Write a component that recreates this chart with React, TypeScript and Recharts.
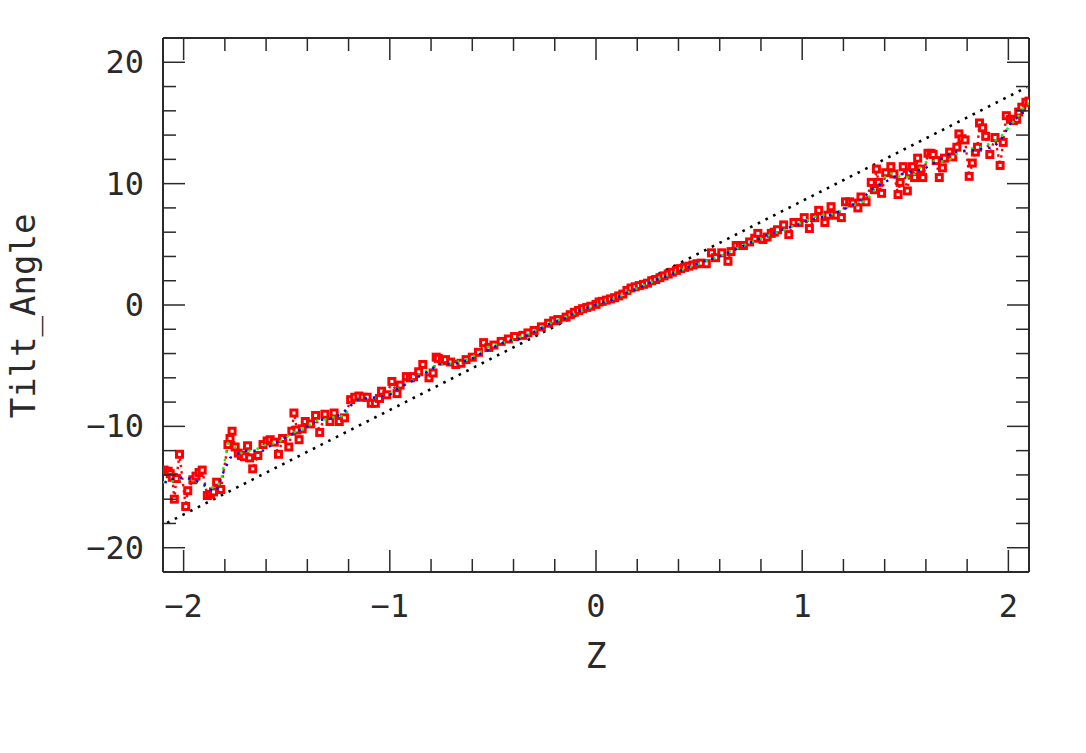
import { Label, Scatter, ScatterChart, XAxis, YAxis } from 'recharts';

// tick positions along Z and the tilt angle; labelled ones are the majors
const zTicks = [-2, -1.8, -1.6, -1.4, -1.2, -1, -0.8, -0.6, -0.4, -0.2, 0, 0.2, 0.4, 0.6, 0.8, 1, 1.2, 1.4, 1.6, 1.8, 2];
const zMajor = [-2, -1, 0, 1, 2];
const angleTicks = [-20, -18, -16, -14, -12, -10, -8, -6, -4, -2, 0, 2, 4, 6, 8, 10, 12, 14, 16, 18, 20];
const angleMajor = [-20, -10, 0, 10, 20];

// measured tilt angle (red squares), [z, angle]
const measured: [number, number][] = [
  [-2.095, -13.6], [-2.085, -13.7], [-2.075, -13.7], [-2.065, -13.9], [-2.055, -14.2],
  [-2.045, -16.0], [-2.035, -14.3], [-2.02, -12.3], [-1.99, -16.6], [-1.98, -15.3],
  [-1.955, -14.4], [-1.94, -14.1], [-1.925, -13.8], [-1.91, -13.6], [-1.885, -15.7],
  [-1.87, -15.6], [-1.855, -15.4], [-1.84, -14.6], [-1.82, -15.2], [-1.785, -11.5],
  [-1.775, -11.0], [-1.765, -10.4], [-1.75, -11.7], [-1.735, -12.2], [-1.72, -12.4],
  [-1.705, -12.5], [-1.69, -11.6], [-1.68, -12.6], [-1.665, -13.5], [-1.64, -12.4],
  [-1.615, -11.5], [-1.595, -11.2], [-1.58, -11.1], [-1.56, -11.3], [-1.54, -12.3],
  [-1.52, -11.0], [-1.49, -11.7], [-1.475, -10.4], [-1.465, -8.9], [-1.45, -10.3],
  [-1.44, -11.1], [-1.425, -10.2], [-1.41, -9.6], [-1.385, -9.8], [-1.36, -9.1],
  [-1.34, -10.5], [-1.315, -9.0], [-1.29, -9.6], [-1.27, -8.9], [-1.245, -9.6],
  [-1.22, -9.3], [-1.19, -7.8], [-1.17, -7.6], [-1.15, -7.5], [-1.13, -7.6],
  [-1.11, -7.6], [-1.09, -8.1], [-1.07, -8.1], [-1.05, -7.7], [-1.04, -7.1],
  [-1.015, -7.4], [-0.99, -6.3], [-0.965, -7.3], [-0.95, -6.6], [-0.92, -5.9],
  [-0.9, -6.0], [-0.885, -5.9], [-0.86, -5.5], [-0.84, -4.9], [-0.81, -6.0],
  [-0.79, -5.6], [-0.775, -4.3], [-0.765, -4.4], [-0.745, -4.6], [-0.73, -4.5],
  [-0.705, -4.7], [-0.68, -4.9], [-0.655, -4.8], [-0.63, -4.5], [-0.6, -4.3],
  [-0.57, -3.9], [-0.545, -3.1], [-0.52, -3.5], [-0.495, -3.3], [-0.46, -3.0],
  [-0.425, -2.8], [-0.395, -2.6], [-0.355, -2.5], [-0.33, -2.3], [-0.3, -2.1],
  [-0.265, -1.8], [-0.23, -1.5], [-0.205, -1.3], [-0.185, -1.2], [-0.145, -1.0],
  [-0.125, -0.8], [-0.105, -0.6], [-0.085, -0.45], [-0.065, -0.3], [-0.045, -0.2],
  [-0.025, -0.1], [0.0, 0.05], [0.015, 0.25], [0.03, 0.3], [0.05, 0.4],
  [0.07, 0.5], [0.09, 0.6], [0.11, 0.75], [0.13, 0.9], [0.15, 1.2],
  [0.17, 1.4], [0.19, 1.5], [0.21, 1.6], [0.23, 1.7], [0.25, 1.8],
  [0.27, 2.0], [0.29, 2.1], [0.31, 2.25], [0.33, 2.4], [0.35, 2.55],
  [0.37, 2.7], [0.39, 2.85], [0.41, 3.0], [0.43, 3.1], [0.45, 3.2],
  [0.47, 3.3], [0.49, 3.4], [0.51, 3.45], [0.535, 3.4], [0.56, 4.3],
  [0.58, 3.9], [0.61, 4.3], [0.64, 3.6], [0.655, 4.4], [0.68, 4.9],
  [0.7, 4.9], [0.715, 4.9], [0.745, 5.2], [0.77, 5.5], [0.785, 5.9],
  [0.81, 5.4], [0.83, 5.6], [0.85, 5.9], [0.865, 6.0], [0.88, 6.2],
  [0.91, 6.6], [0.935, 5.8], [0.96, 6.8], [0.985, 6.8], [1.01, 7.2],
  [1.035, 6.3], [1.06, 7.2], [1.08, 7.8], [1.11, 6.8], [1.125, 7.4],
  [1.14, 8.1], [1.165, 7.4], [1.19, 7.2], [1.21, 8.5], [1.23, 8.5],
  [1.245, 8.4], [1.27, 8.0], [1.285, 8.9], [1.31, 8.5], [1.335, 10.1],
  [1.35, 9.5], [1.36, 11.2], [1.37, 10.1], [1.385, 9.2], [1.405, 10.9],
  [1.43, 11.4], [1.445, 10.8], [1.465, 9.1], [1.475, 10.1], [1.49, 11.4],
  [1.51, 9.4], [1.52, 10.9], [1.535, 11.4], [1.545, 10.5], [1.56, 12.1],
  [1.575, 11.2], [1.585, 10.5], [1.61, 12.5], [1.625, 12.5], [1.635, 12.4],
  [1.65, 11.9], [1.665, 10.5], [1.68, 11.3], [1.69, 12.1], [1.715, 12.6],
  [1.73, 12.2], [1.75, 13.0], [1.76, 14.1], [1.775, 13.7], [1.79, 13.6],
  [1.81, 10.6], [1.825, 11.7], [1.84, 12.6], [1.85, 13.0], [1.86, 15.0],
  [1.875, 14.6], [1.89, 13.9], [1.91, 12.4], [1.935, 13.8], [1.96, 11.5],
  [1.975, 13.4], [1.99, 15.6], [2.01, 15.3], [2.025, 15.2], [2.04, 15.3],
  [2.05, 15.9], [2.065, 16.3], [2.085, 16.7], [2.1, 16.8],
];

// smoothed curves (green, blue dotted)
const smoothGreen: [number, number][] = [
  [-2.1, -14.6], [-2.05, -14.5], [-2.0, -14.3], [-1.95, -14.4], [-1.9, -14.9],
  [-1.85, -15.1], [-1.82, -14.6], [-1.8, -12.8], [-1.785, -11.4], [-1.75, -11.7],
  [-1.72, -12.2], [-1.68, -12.0], [-1.63, -11.8], [-1.59, -11.4], [-1.55, -11.4],
  [-1.5, -10.9], [-1.47, -10.5], [-1.43, -10.3], [-1.39, -9.9], [-1.35, -9.5],
  [-1.3, -9.4], [-1.25, -9.1], [-1.22, -9.2], [-1.19, -8.2], [-1.15, -7.8],
  [-1.1, -7.7], [-1.05, -7.6], [-1.0, -7.3], [-0.95, -6.8], [-0.9, -6.3],
  [-0.84, -5.6], [-0.78, -5.0], [-0.7, -4.8], [-0.63, -4.5], [-0.57, -4.0],
  [-0.53, -3.5], [-0.47, -3.2], [-0.41, -2.9], [-0.33, -2.4], [-0.25, -1.7],
  [-0.18, -1.2], [-0.1, -0.7], [0.0, 0.0], [0.1, 0.6], [0.2, 1.4],
  [0.3, 2.1], [0.4, 2.8], [0.5, 3.4], [0.6, 4.0], [0.7, 4.8],
  [0.8, 5.5], [0.9, 6.1], [1.0, 6.8], [1.08, 7.4], [1.15, 7.5],
  [1.2, 7.9], [1.26, 8.3], [1.31, 8.6], [1.36, 9.7], [1.42, 10.9],
  [1.47, 10.6], [1.53, 10.5], [1.57, 11.3], [1.61, 11.9], [1.66, 11.8],
  [1.71, 11.9], [1.76, 12.6], [1.8, 12.8], [1.85, 12.9], [1.91, 13.3],
  [1.96, 13.8], [2.0, 14.6], [2.05, 15.6], [2.08, 16.5], [2.1, 16.6],
];

const smoothBlue: [number, number][] = [
  [-2.1, -15.0], [-2.08, -14.4], [-2.0, -14.2], [-1.95, -14.4], [-1.9, -14.8],
  [-1.88, -15.2], [-1.84, -15.3], [-1.81, -13.9], [-1.775, -12.6], [-1.73, -12.2],
  [-1.69, -12.0], [-1.615, -12.0], [-1.57, -11.5], [-1.505, -10.9], [-1.47, -10.6],
  [-1.39, -9.9], [-1.35, -9.5], [-1.27, -9.3], [-1.23, -8.9], [-1.21, -8.6],
  [-1.17, -8.0], [-1.145, -7.7], [-1.1, -7.7], [-1.0, -7.4], [-0.97, -7.0],
  [-0.93, -6.6], [-0.895, -6.3], [-0.86, -5.9], [-0.795, -5.3], [-0.775, -4.9],
  [-0.68, -4.8], [-0.61, -4.5], [-0.57, -4.1], [-0.5, -3.5], [-0.45, -3.1],
  [-0.41, -2.9], [-0.37, -2.8], [-0.3, -2.2], [-0.22, -1.5], [-0.18, -1.3],
  [-0.15, -1.1], [-0.11, -0.7], [-0.07, -0.4], [-0.02, -0.1], [0.01, 0.1],
  [0.09, 0.5], [0.13, 0.9], [0.21, 1.4], [0.28, 2.0], [0.39, 2.7],
  [0.47, 3.3], [0.6, 4.0], [0.68, 4.6], [0.77, 5.3], [0.82, 5.7],
  [0.87, 6.0], [0.99, 6.7], [1.03, 7.0], [1.11, 7.3], [1.155, 7.5],
  [1.19, 7.8], [1.23, 8.1], [1.3, 8.9], [1.33, 9.4], [1.36, 9.8],
  [1.4, 10.1], [1.44, 10.5], [1.5, 10.9], [1.59, 11.2], [1.63, 11.6],
  [1.69, 12.2], [1.73, 12.6], [1.8, 12.7], [1.85, 12.8], [1.89, 12.9],
  [1.93, 13.0], [1.98, 14.0], [2.0, 14.8], [2.04, 15.4], [2.06, 15.8],
  [2.09, 15.9],
];

// reference straight line (black dotted)
const reference: [number, number][] = [
  [-2.08, -17.95],
  [2.09, 17.95],
];

const toRows = (pts: [number, number][]) => pts.map(([z, angle]) => ({ z, angle }));

const INK = '#2a2a2a';
const FONT = "'DejaVu Sans Mono', monospace";
const MAJOR = 22;
const MINOR = 13;

const fmt = (v: number) => (v < 0 ? `\u2212${Math.abs(v)}` : `${v}`);

function BottomTick({ x, y, payload }: any) {
  const major = zMajor.includes(payload.value);
  return (
    <g>
      <line x1={x} y1={y} x2={x} y2={y - (major ? MAJOR : MINOR)} stroke={INK} strokeWidth={1.5} />
      {major && (
        <text x={x} y={y + 45} textAnchor="middle" fontFamily={FONT} fontSize={32} fill={INK}>
          {fmt(payload.value)}
        </text>
      )}
    </g>
  );
}

function TopTick({ x, y, payload }: any) {
  const major = zMajor.includes(payload.value);
  return <line x1={x} y1={y} x2={x} y2={y + (major ? MAJOR : MINOR)} stroke={INK} strokeWidth={1.5} />;
}

function LeftTick({ x, y, payload }: any) {
  const major = angleMajor.includes(payload.value);
  return (
    <g>
      <line x1={x} y1={y} x2={x + (major ? MAJOR : MINOR)} y2={y} stroke={INK} strokeWidth={1.5} />
      {major && (
        <text x={x - 19} y={y + 11} textAnchor="end" fontFamily={FONT} fontSize={32} fill={INK}>
          {fmt(payload.value)}
        </text>
      )}
    </g>
  );
}

function RightTick({ x, y, payload }: any) {
  const major = angleMajor.includes(payload.value);
  return <line x1={x} y1={y} x2={x - (major ? MAJOR : MINOR)} y2={y} stroke={INK} strokeWidth={1.5} />;
}

function HollowSquare({ cx, cy }: any) {
  return <rect x={cx - 3} y={cy - 3} width={6} height={6} fill="#fff" stroke="#ff0000" strokeWidth={3} />;
}

const NoMark = () => <g />;

const axisLine = { stroke: INK, strokeWidth: 2 };

export default function App() {
  // the svg starts at the page edge so the rotated axis title has room
  return (
    <div style={{ width: 1078, height: 737, marginLeft: -8 }}>
      <ScatterChart width={1078} height={737} margin={{ top: 20, right: 39, bottom: 113, left: 63 }}>
        <XAxis
          xAxisId="b"
          type="number"
          dataKey="z"
          domain={[-2.1, 2.1]}
          allowDataOverflow
          ticks={zTicks}
          interval={0}
          tickSize={0}
          tickMargin={0}
          tickLine={false}
          axisLine={axisLine}
          tick={<BottomTick />}
          height={60}
        >
          <Label
            content={({ viewBox }: any) => (
              <text
                x={viewBox.x + viewBox.width / 2}
                y={viewBox.y + 96}
                textAnchor="middle"
                fontFamily={FONT}
                fontSize={35}
                fill={INK}
              >
                Z
              </text>
            )}
          />
        </XAxis>
        <XAxis
          xAxisId="t"
          orientation="top"
          type="number"
          dataKey="z"
          domain={[-2.1, 2.1]}
          allowDataOverflow
          ticks={zTicks}
          interval={0}
          tickSize={0}
          tickMargin={0}
          tickLine={false}
          axisLine={axisLine}
          tick={<TopTick />}
          height={10}
        />
        <YAxis
          yAxisId="l"
          type="number"
          dataKey="angle"
          domain={[-22, 22]}
          allowDataOverflow
          ticks={angleTicks}
          interval={0}
          tickSize={0}
          tickMargin={0}
          tickLine={false}
          axisLine={axisLine}
          tick={<LeftTick />}
          width={100}
        >
          <Label
            content={({ viewBox }: any) => {
              const cx = viewBox.x - 28;
              const cy = viewBox.y + viewBox.height / 2 + 11;
              return (
                <text
                  x={cx}
                  y={cy}
                  transform={`rotate(-90 ${cx} ${cy})`}
                  textAnchor="middle"
                  fontFamily={FONT}
                  fontSize={34}
                  fill={INK}
                >
                  Tilt_Angle
                </text>
              );
            }}
          />
        </YAxis>
        <YAxis
          yAxisId="r"
          orientation="right"
          type="number"
          dataKey="angle"
          domain={[-22, 22]}
          allowDataOverflow
          ticks={angleTicks}
          interval={0}
          tickSize={0}
          tickMargin={0}
          tickLine={false}
          axisLine={axisLine}
          tick={<RightTick />}
          width={10}
        />

        <Scatter
          xAxisId="b"
          yAxisId="l"
          data={toRows(reference)}
          line={{ stroke: '#000', strokeWidth: 2.6, strokeDasharray: '2.6 6' }}
          lineType="joint"
          shape={NoMark}
          isAnimationActive={false}
        />
        <Scatter
          xAxisId="b"
          yAxisId="l"
          data={toRows(measured)}
          line={{ stroke: '#ff0000', strokeWidth: 2.4, strokeDasharray: '2.4 4' }}
          lineType="joint"
          shape={<HollowSquare />}
          isAnimationActive={false}
        />
        <Scatter
          xAxisId="b"
          yAxisId="l"
          data={toRows(smoothGreen)}
          line={{ stroke: '#00ff00', strokeWidth: 2.4, strokeDasharray: '2.4 6' }}
          lineType="joint"
          shape={NoMark}
          isAnimationActive={false}
        />
        <Scatter
          xAxisId="b"
          yAxisId="l"
          data={toRows(smoothBlue)}
          line={{ stroke: '#0000ff', strokeWidth: 2.4, strokeDasharray: '2.4 6', strokeDashoffset: 4 }}
          lineType="joint"
          shape={NoMark}
          isAnimationActive={false}
        />
      </ScatterChart>
    </div>
  );
}
